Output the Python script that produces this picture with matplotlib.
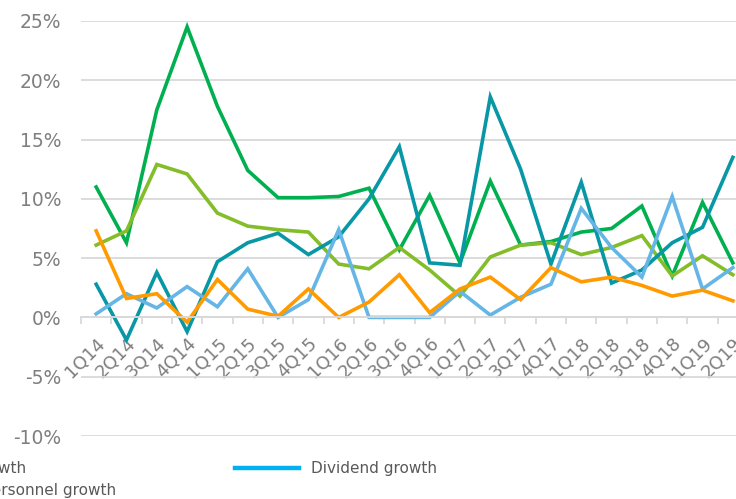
import matplotlib.pyplot as plt
from matplotlib.lines import Line2D

quarters = ['1Q14', '2Q14', '3Q14', '4Q14', '1Q15', '2Q15', '3Q15', '4Q15',
            '1Q16', '2Q16', '3Q16', '4Q16', '1Q17', '2Q17', '3Q17', '4Q17',
            '1Q18', '2Q18', '3Q18', '4Q18', '1Q19', '2Q19']

# growth rates in percent, quarter on quarter
income = [11.0, 6.3, 17.5, 24.5, 17.8, 12.4, 10.1, 10.1, 10.2, 10.9, 5.7,
          10.3, 4.6, 11.5, 6.1, 6.4, 7.2, 7.5, 9.4, 3.5, 9.7, 4.6]
cost = [6.1, 7.3, 12.9, 12.1, 8.8, 7.7, 7.4, 7.2, 4.5, 4.1, 5.9,
        4.0, 1.8, 5.1, 6.1, 6.3, 5.3, 5.9, 6.9, 3.5, 5.2, 3.6]
profit = [2.8, -1.9, 3.8, -1.2, 4.7, 6.3, 7.1, 5.3, 6.8, 10.0, 14.4,
          4.6, 4.4, 18.6, 12.5, 4.5, 11.4, 2.9, 4.0, 6.3, 7.6, 13.5]
dividend = [0.3, 2.0, 0.8, 2.6, 0.9, 4.1, 0.0, 1.5, 7.4, 0.0, 0.0,
            0.0, 2.2, 0.2, 1.7, 2.8, 9.2, 5.9, 3.4, 10.2, 2.4, 4.2]
personnel = [7.3, 1.6, 2.0, -0.4, 3.2, 0.7, 0.1, 2.4, 0.0, 1.3, 3.6,
             0.4, 2.4, 3.4, 1.5, 4.2, 3.0, 3.4, 2.7, 1.8, 2.3, 1.4]

yticks = [-10, -5, 0, 5, 10, 15, 20, 25]

grey = '#D9D9D9'
txt = '#7F7F7F'

fig = plt.figure(figsize=(7.36, 4.99), dpi=100)
ax = fig.add_axes([81 / 736, 1 - 436 / 499, 667 / 736, 415 / 499])

x = list(range(len(quarters)))
lw = 2.6
ax.plot(x, income, color='#00B050', lw=lw, solid_joinstyle='miter')
ax.plot(x, cost, color='#84BD2A', lw=lw, solid_joinstyle='miter')
ax.plot(x, profit, color='#0797A5', lw=lw, solid_joinstyle='miter')
ax.plot(x, dividend, color='#65B6E6', lw=lw, solid_joinstyle='miter')
ax.plot(x, personnel, color='#FF9B00', lw=lw, solid_joinstyle='miter')

ax.set_xlim(-0.5, len(quarters) - 0.5)
ax.set_ylim(-10, 25)
ax.set_yticks(yticks)
ax.set_yticklabels([f'{v}%' for v in yticks])
ax.grid(axis='y', color=grey, lw=1.3)
ax.set_axisbelow(True)

for s in ['top', 'right', 'left']:
    ax.spines[s].set_visible(False)
ax.spines['bottom'].set_position(('data', 0))
ax.spines['bottom'].set_color(grey)
ax.spines['bottom'].set_linewidth(1.3)

ax.set_xticks(x)
ax.set_xticklabels(quarters, rotation=45, ha='right', va='top',
                   rotation_mode='anchor')
ax.set_xticks([i - 0.5 for i in range(len(quarters) + 1)], minor=True)
ax.tick_params(axis='x', which='major', length=0, pad=12, labelsize=13,
               labelcolor=txt)
ax.tick_params(axis='x', which='minor', length=5, width=1.3, color=grey,
               direction='out')
ax.tick_params(axis='y', length=0, pad=14, labelsize=13.5, labelcolor=txt)

# legend, laid out in rows below the plot
leg_kw = dict(frameon=False, fontsize=11, labelcolor='#595959', borderpad=0,
              borderaxespad=0, handlelength=4.2, handletextpad=0.75)
l1 = fig.legend([Line2D([], [], color='#0797A5', lw=3.2)], ['Profit growth'],
                loc='center right', bbox_to_anchor=(26 / 736, 1 - 469 / 499),
                **leg_kw)
l2 = fig.legend([Line2D([], [], color='#00B0F0', lw=3.2)], ['Dividend growth'],
                loc='center left', bbox_to_anchor=(235 / 736, 1 - 469 / 499),
                **leg_kw)
l3 = fig.legend([Line2D([], [], color='#FF9B00', lw=3.2)], ['Personnel growth'],
                loc='center right', bbox_to_anchor=(116 / 736, 1 - 490 / 499),
                **leg_kw)

plt.savefig('out.png', dpi=100)
